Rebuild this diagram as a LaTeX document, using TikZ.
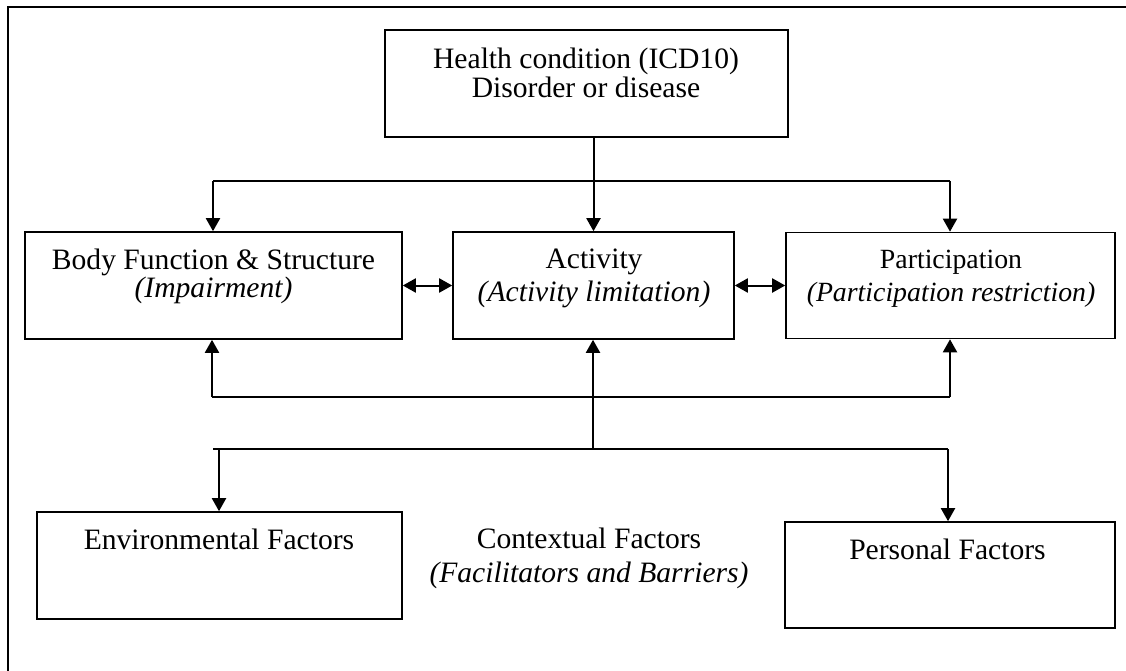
\documentclass[tikz,border=0pt]{standalone}
\usepackage{fontspec}
\setmainfont{Liberation Serif}
\usetikzlibrary{arrows.meta,calc}
\begin{document}
\begin{tikzpicture}[x=1pt,y=-1pt,
  box/.style={draw, line width=1.6pt, inner sep=0pt},
  lbl/.style={align=center, anchor=north, inner sep=0pt,
              font=\fontsize{29.6}{29}\selectfont},
  wire/.style={line width=2pt},
  tip/.style={-{Triangle[length=13pt,width=14pt]}},
  arr/.style={wire, tip},
  darr/.style={wire, {Triangle[length=13pt,width=14pt]}-{Triangle[length=13pt,width=14pt]}}]

\useasboundingbox (0,0) rectangle (1126,671);

% page frame
\draw[line width=2.4pt] (7.8,680) -- (7.8,6.8) -- (1130,6.8);

% boxes
\node[box, minimum width=403pt, minimum height=107pt] (health) at (586.5,83.5) {};
\node[box, minimum width=377pt, minimum height=107pt] (body) at (213.5,285.5) {};
\node[box, minimum width=281pt, minimum height=107pt] (activity) at (593.5,285.5) {};
\node[box, minimum width=329pt, minimum height=106pt] (part) at (950.5,285.5) {};
\node[box, minimum width=365pt, minimum height=107pt] (env) at (219.5,565.5) {};
\node[box, minimum width=330pt, minimum height=106pt] (pers) at (950,575) {};

% box texts
\node[lbl] (healthT) at (586,47.6) {Health condition (ICD10)\\Disorder or disease};
\node[lbl, font=\fontsize{29.6}{28}\selectfont] (bodyT) at (213.5,248.6)
  {Body Function \& Structure\\\textit{(Impairment)}};
\node[lbl, font=\fontsize{29.6}{33}\selectfont] (activityT) at (594,248.6)
  {Activity\\\textit{(Activity limitation)}};
\node[lbl, font=\fontsize{27.8}{33}\selectfont] (partT) at (951,249.7)
  {Participation\\\textit{(Participation restriction)}};
\node[lbl] (envT) at (219,528.6) {Environmental Factors};
\node[lbl] (persT) at (947.5,538.6) {Personal Factors};
\node[lbl, font=\fontsize{29.6}{34}\selectfont] (ctxT) at (589,527.6)
  {Contextual Factors\\\textit{(Facilitators and Barriers)}};

% health condition to the three components
\coordinate (tl) at (213,181);
\coordinate (tr) at (950,181);
\draw[wire] (tl) -- (tr);
\draw[arr] (health.south -| activity.north) -- (activity.north);
\draw[arr] (tl) -- (tl |- body.north);
\draw[arr] (tr) -- (tr |- part.north);

% interactions between components
\draw[darr] (body.east) -- (activity.west);
\draw[darr] (activity.east) -- (part.west);

% contextual factors feeding back
\coordinate (bl) at (212,397);
\coordinate (br) at (950,397);
\coordinate (cm) at (593,449);
\draw[wire] (bl) -- (br);
\draw[arr] (bl) -- (bl |- body.south);
\draw[arr] (br) -- (br |- part.south);
\draw[arr] (cm) -- (cm |- activity.south);

\coordinate (el) at (213,449);
\coordinate (ea) at (219,449);
\coordinate (er) at (948,449);
\draw[wire] (el) -- (er);
\draw[arr] (ea) -- (ea |- env.north);
\draw[arr] (er) -- (er |- pers.north);
\end{tikzpicture}
\end{document}
